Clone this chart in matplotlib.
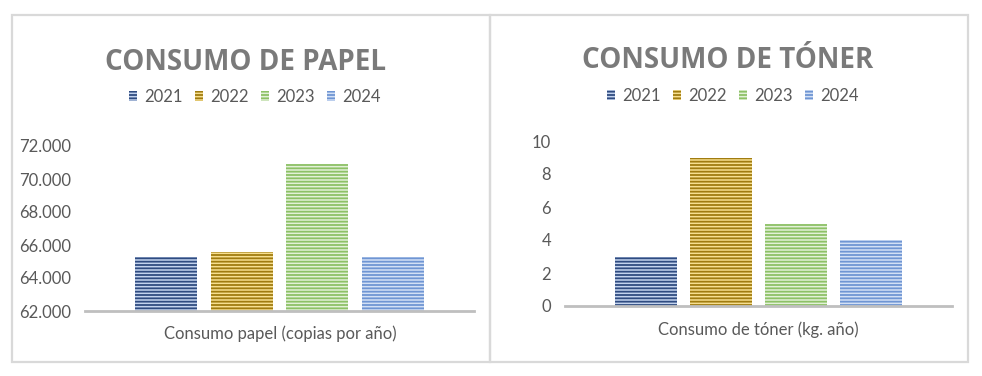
"""
Consumo de papel y tóner 2021-2024, dos gráficos de barras lado a lado.
Output: out.png
"""
import matplotlib
matplotlib.use("Agg")
import matplotlib.pyplot as plt
from matplotlib.patches import Patch, Rectangle

years = ["2021", "2022", "2023", "2024"]
papel = [65300, 65600, 70900, 65300]
toner = [3, 9, 5, 4]

papel_ticks = [62000, 64000, 66000, 68000, 70000, 72000]
papel_ticklabels = ["62.000", "64.000", "66.000", "68.000", "70.000", "72.000"]
toner_ticks = [0, 2, 4, 6, 8, 10]

# (stripe colour, fill colour) per year
DARK = ["#2f4b80", "#a07c10", "#8dc166", "#6f95d3"]
LIGHT = ["#c3d3ee", "#f7df8f", "#e3f1d8", "#d3e0f5"]

FONT = "Lato"
TEXT_GRAY = "#595959"
TITLE_GRAY = "#7a7a7a"
AXIS_GRAY = "#bfbfbf"

plt.rcParams["font.family"] = [FONT, "DejaVu Sans"]
plt.rcParams["hatch.linewidth"] = 1.3

W, H = 982, 376
fig = plt.figure(figsize=(W / 100, H / 100), dpi=100)


def fx(px):
    return px / W


def fy(py):
    return 1 - py / H


# panel borders
for x0, x1 in [(12, 490), (490, 968)]:
    fig.patches.append(Rectangle((fx(x0), fy(362)), fx(x1 - x0), (362 - 15) / H,
                                 transform=fig.transFigure, fill=False,
                                 edgecolor="#d9d9d9", linewidth=1.6))


def draw_panel(left_px, right_px, base_px, values, ylim, ticks, ticklabels,
               title, title_xy, legend_xy, xlabel, xlabel_xy):
    ax = fig.add_axes([fx(left_px), fy(base_px), fx(right_px - left_px), 165 / H])
    offsets = [(i - 1.5) * 0.194 for i in range(len(years))]
    for i, (off, v) in enumerate(zip(offsets, values)):
        ax.bar(off, v - ylim[0], bottom=ylim[0], width=0.16, color=LIGHT[i],
               edgecolor=DARK[i], hatch="-----", linewidth=0)
    ax.set_xlim(-0.5, 0.5)
    ax.set_ylim(*ylim)
    ax.set_yticks(ticks)
    ax.set_yticklabels(ticklabels, fontsize=12, color=TEXT_GRAY)
    ax.set_xticks([])
    ax.tick_params(axis="y", length=0, pad=10)
    for s in ["top", "right", "left"]:
        ax.spines[s].set_visible(False)
    ax.spines["bottom"].set_color(AXIS_GRAY)
    ax.spines["bottom"].set_linewidth(2)

    fig.text(fx(title_xy[0]), fy(title_xy[1]), title, ha="center", va="center",
             fontsize=20, fontweight="bold", color=TITLE_GRAY,
             family=["Open Sans", "DejaVu Sans"])
    fig.text(fx(xlabel_xy[0]), fy(xlabel_xy[1]), xlabel, ha="center", va="center",
             fontsize=12, color=TEXT_GRAY)

    handles = [Patch(facecolor=LIGHT[i], edgecolor=DARK[i], hatch="-----", linewidth=0)
               for i in range(len(years))]
    fig.legend(handles, years, loc="center", bbox_to_anchor=(fx(legend_xy[0]), fy(legend_xy[1])),
               ncol=4, frameon=False, fontsize=12, labelcolor=TEXT_GRAY,
               handlelength=0.5, handleheight=0.5, handletextpad=0.45, columnspacing=0.7)
    return ax


draw_panel(85, 474, 311, papel, (62000, 72000), papel_ticks, papel_ticklabels,
           "CONSUMO DE PAPEL", (246, 63), (255, 97),
           "Consumo papel (copias por año)", (280, 334))
draw_panel(565, 952, 306, toner, (0, 10), toner_ticks, [str(t) for t in toner_ticks],
           "CONSUMO DE TÓNER", (728, 61), (733, 96),
           "Consumo de tóner (kg. año)", (758, 330))

fig.savefig("out.png", dpi=100)
